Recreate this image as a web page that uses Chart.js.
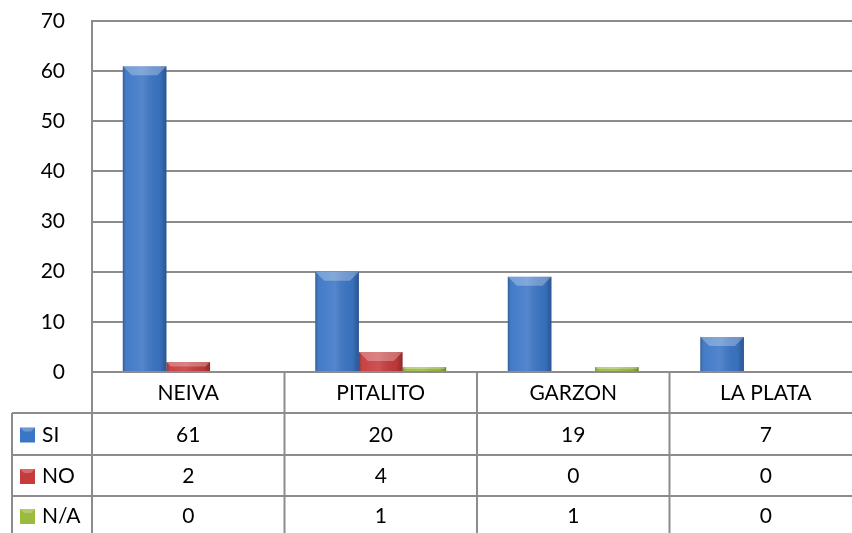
<!DOCTYPE html>
<html>
<head>
<meta charset="utf-8">
<script src="https://cdn.jsdelivr.net/npm/chart.js@4/dist/chart.umd.min.js"></script>
<style>
  html, body { margin: 0; padding: 0; background: #fff; }
  #wrap { width: 852px; height: 533px; position: relative; overflow: hidden; }
</style>
</head>
<body>
<div id="wrap"><canvas id="c" width="862" height="533"></canvas></div>
<script>
const categories = ['NEIVA', 'PITALITO', 'GARZON', 'LA PLATA'];
const siValues = [61, 20, 19, 7];
const noValues = [2, 4, 0, 0];
const naValues = [0, 1, 1, 0];
const seriesNames = ['SI', 'NO', 'N/A'];
const yTicks = [0, 10, 20, 30, 40, 50, 60, 70];

const colors = ['#3b76c6', '#c63b3b', '#9bbb3f'];
const FONT = 'Lato, "Open Sans", sans-serif';
const GRID = '#8c8c8c';

const tablePlugin = {
  id: 'dataTable',
  afterDatasetsDraw(chart) {
    const ctx = chart.ctx;
    chart.data.datasets.forEach((ds, di) => {
      const meta = chart.getDatasetMeta(di);
      meta.data.forEach((bar) => {
        const h = bar.base - bar.y;
        if (h <= 0.5) return;
        const left = bar.x - bar.width / 2, right = bar.x + bar.width / 2;
        const g = ctx.createLinearGradient(left, 0, right, 0);
        g.addColorStop(0, 'rgba(0,0,0,0.22)');
        g.addColorStop(0.12, 'rgba(255,255,255,0.05)');
        g.addColorStop(0.45, 'rgba(255,255,255,0.12)');
        g.addColorStop(0.85, 'rgba(0,0,0,0.05)');
        g.addColorStop(1, 'rgba(0,0,0,0.28)');
        ctx.save();
        ctx.fillStyle = g;
        ctx.fillRect(left, bar.y, bar.width, h);
        const bev = Math.min(9, h / 2);
        ctx.beginPath();
        ctx.moveTo(left, bar.y);
        ctx.lineTo(right, bar.y);
        ctx.lineTo(right - bev, bar.y + bev);
        ctx.lineTo(left + bev, bar.y + bev);
        ctx.closePath();
        ctx.fillStyle = 'rgba(255,255,255,0.28)';
        ctx.fill();
        ctx.restore();
      });
    });
  },
  afterDraw(chart) {
    const ctx = chart.ctx;
    const xs = chart.scales.x;
    const area = chart.chartArea;
    const n = categories.length;
    const w = (area.right - area.left) / n;
    const top = area.bottom;
    const rows = [top, 413, 455, 496];
    const bottom = 533;
    const tableLeft = 12;
    ctx.save();
    ctx.strokeStyle = GRID;
    ctx.lineWidth = 2;
    for (let r = 1; r < rows.length; r++) {
      ctx.beginPath();
      ctx.moveTo(tableLeft, rows[r]);
      ctx.lineTo(area.right, rows[r]);
      ctx.stroke();
    }
    ctx.beginPath();
    ctx.moveTo(tableLeft, rows[1]);
    ctx.lineTo(tableLeft, bottom);
    ctx.stroke();
    for (let i = 0; i <= n; i++) {
      const x = area.left + i * w;
      ctx.beginPath();
      ctx.moveTo(x, top);
      ctx.lineTo(x, bottom);
      ctx.stroke();
    }
    ctx.fillStyle = '#000';
    ctx.font = '21px ' + FONT;
    ctx.textAlign = 'center';
    ctx.textBaseline = 'middle';
    categories.forEach((c, i) => {
      ctx.fillText(c, xs.getPixelForValue(i), (rows[0] + rows[1]) / 2 + 1);
    });
    const rowData = [siValues, noValues, naValues];
    rowData.forEach((vals, r) => {
      const yc = r < 2 ? (rows[r + 1] + rows[r + 2]) / 2 + 1 : (rows[3] + bottom) / 2 + 2;
      vals.forEach((v, i) => {
        ctx.fillText(String(v), xs.getPixelForValue(i), yc);
      });
      const kx = 20, ks = 15;
      ctx.fillStyle = colors[r];
      ctx.fillRect(kx, yc - ks / 2, ks, ks);
      ctx.fillStyle = 'rgba(255,255,255,0.25)';
      ctx.beginPath();
      ctx.moveTo(kx, yc - ks / 2);
      ctx.lineTo(kx + ks, yc - ks / 2);
      ctx.lineTo(kx + ks - 4, yc - ks / 2 + 4);
      ctx.lineTo(kx + 4, yc - ks / 2 + 4);
      ctx.closePath();
      ctx.fill();
      ctx.fillStyle = '#000';
      ctx.textAlign = 'left';
      ctx.fillText(seriesNames[r], 42, yc);
      ctx.textAlign = 'center';
    });
    ctx.restore();
  }
};

new Chart(document.getElementById('c'), {
  type: 'bar',
  data: {
    labels: categories,
    datasets: [
      { label: seriesNames[0], data: siValues, backgroundColor: colors[0] },
      { label: seriesNames[1], data: noValues, backgroundColor: colors[1] },
      { label: seriesNames[2], data: naValues, backgroundColor: colors[2] }
    ]
  },
  options: {
    responsive: false,
    animation: false,
    devicePixelRatio: 1,
    layout: { padding: { top: 21, right: 0, bottom: 161, left: 0 } },
    datasets: { bar: { categoryPercentage: 0.68, barPercentage: 1.0 } },
    plugins: { legend: { display: false }, tooltip: { enabled: false } },
    scales: {
      x: { display: false, offset: true },
      y: {
        min: 0, max: 70,
        afterBuildTicks: (s) => { s.ticks = yTicks.map(v => ({ value: v })); },
        afterFit: (s) => { s.width = 92; s.paddingTop = 0; s.paddingBottom = 0; },
        ticks: { color: '#000', font: { family: FONT, size: 21 }, padding: 27 },
        grid: { color: GRID, lineWidth: 2, drawTicks: false },
        border: { display: true, color: GRID, width: 2 }
      }
    }
  },
  plugins: [tablePlugin]
});
</script>
</body>
</html>
